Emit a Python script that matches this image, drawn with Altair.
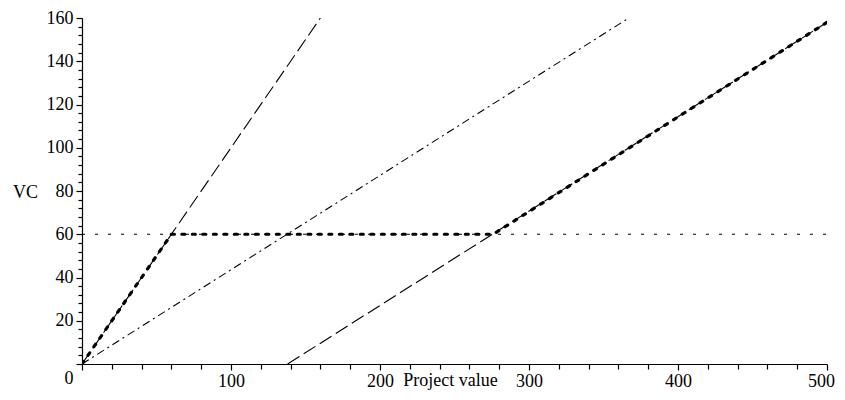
import altair as alt
import pandas as pd

# data
diag_x = [0, 160]
diag_y = [0, 160]
dashdot_x = [0, 367]
dashdot_y = [0, 160]
shifted_x = [138, 500]
shifted_y = [0, 158]
level_x = [0, 500]
level_y = [60, 60]
payoff_x = [0, 60, 276, 500]
payoff_y = [0, 60, 60, 158]

x_ticks = list(range(0, 501, 20))
y_ticks = list(range(0, 161, 4))

FONT = "Liberation Serif"


def frame(xs, ys):
    return pd.DataFrame({"x": xs, "y": ys, "i": list(range(len(xs)))})


xscale = alt.Scale(domain=[0, 500], nice=False, zero=False)
yscale = alt.Scale(domain=[0, 160], nice=False, zero=False)

axis_x = alt.Axis(
    values=x_ticks,
    labelExpr="datum.value % 100 == 0 && datum.value > 0 ? datum.label : ''",
    tickSize={"condition": {"test": "datum.value % 100 == 0", "value": 6}, "value": 5},
    labelOffset={"condition": {"test": "datum.value == 500", "value": -6}, "value": 0},
    domainColor="black",
    tickColor="black",
    labelColor="black",
    labelFont=FONT,
    labelFontSize=18,
    labelPadding=2,
    labelFlush=False,
    labelOverlap=False,
    grid=False,
    title="Project value",
    titleFont=FONT,
    titleFontSize=18,
    titleFontWeight="normal",
    titleColor="black",
    titleX=368,
    titleY=21,
    titleBaseline="alphabetic",
    titleAlign="center",
    domainWidth=1.2,
    tickWidth=1.2,
)

axis_y = alt.Axis(
    values=y_ticks,
    labelExpr="datum.value % 20 == 0 ? datum.label : ''",
    tickSize={"condition": {"test": "datum.value % 20 == 0", "value": 6}, "value": 4},
    labelOffset={"condition": {"test": "datum.value == 0", "value": 14}, "value": 0},
    domainColor="black",
    tickColor="black",
    labelColor="black",
    labelFont=FONT,
    labelFontSize=18,
    labelPadding=3,
    labelFlush=False,
    labelOverlap=False,
    grid=False,
    title="VC",
    titleFont=FONT,
    titleFontSize=18,
    titleFontWeight="normal",
    titleColor="black",
    titleAngle=0,
    titleX=-57,
    titleY=174,
    titleAlign="center",
    titleBaseline="middle",
    domainWidth=1.2,
    tickWidth=1.2,
)


def line(xs, ys, dash, width, cap="butt"):
    return alt.Chart(frame(xs, ys)).mark_line(
        color="black", strokeDash=dash, strokeWidth=width, strokeCap=cap, clip=True
    ).encode(
        x=alt.X("x:Q", scale=xscale, axis=axis_x),
        y=alt.Y("y:Q", scale=yscale, axis=axis_y),
        order="i:Q",
    )


layers = [
    line(level_x, level_y, [3, 10], 1.1),
    line(diag_x, diag_y, [14, 5], 1.1),
    line(dashdot_x, dashdot_y, [8, 4, 2, 4], 1.1),
    line(shifted_x, shifted_y, [14, 5], 1.1),
    line(payoff_x, payoff_y, [3, 7.5], 3.2, cap="round"),
]

chart = alt.layer(*layers).properties(
    width=745,
    height=346,
    background="white",
    autosize=alt.AutoSizeParams(type="none"),
    padding={"left": 74, "top": 10, "right": 10, "bottom": 28},
).configure_view(stroke=None)

chart.save("out.html", embed_options={"renderer": "svg", "actions": False})
